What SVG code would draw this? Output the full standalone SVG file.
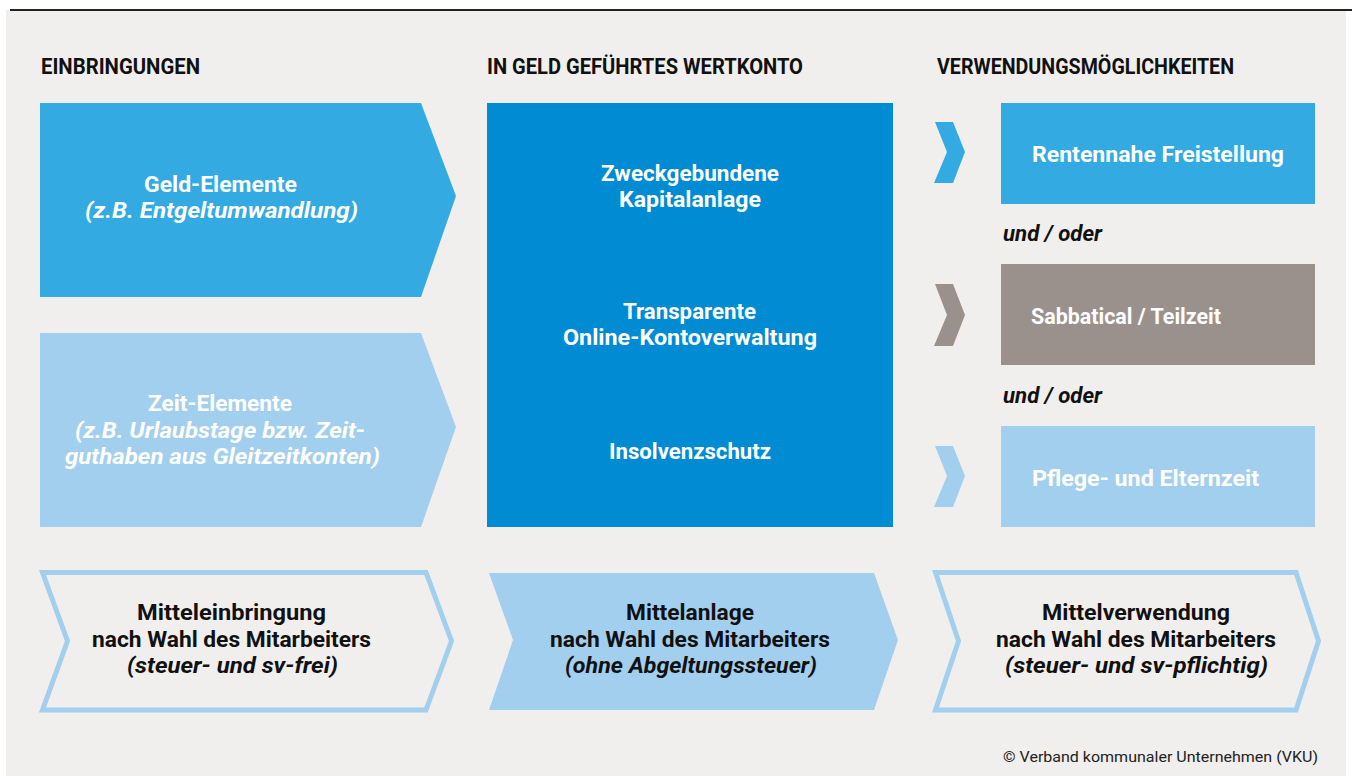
<svg xmlns="http://www.w3.org/2000/svg" width="1352" height="776" viewBox="0 0 1352 776">
<style>
text{font-family:Roboto,"Liberation Sans",sans-serif;font-weight:700;font-size:22px}
.h{fill:#111;font-size:22px}
.w{fill:#fff}
.k{fill:#111}
.c{text-anchor:middle}
.i{font-style:italic}
.blue{fill:#33aae1}
.light{fill:#a3cfee}
.dark{fill:#008bd2}
.grey{fill:#9b918c}
.outline{fill:none;stroke:#a3cfee;stroke-width:5}
.copy{font-weight:400;font-size:15px;fill:#222}
</style>
<rect x="6" y="10" width="1340" height="766" fill="#f0efed"/>
<line x1="10" y1="10" x2="1352" y2="10" stroke="#222" stroke-width="2"/>

<g id="headings">
<text class="h" x="41" y="74" textLength="159" lengthAdjust="spacingAndGlyphs">EINBRINGUNGEN</text>
<text class="h" x="487" y="74" textLength="316" lengthAdjust="spacingAndGlyphs">IN GELD GEFÜHRTES WERTKONTO</text>
<text class="h" x="937" y="74" textLength="297" lengthAdjust="spacingAndGlyphs">VERWENDUNGSMÖGLICHKEITEN</text>
</g>

<g id="geld">
<polygon class="blue" points="40,103 421,103 456,196 421,297 40,297"/>
<text class="w" x="144" y="192" textLength="153" lengthAdjust="spacingAndGlyphs">Geld-Elemente</text>
<text class="w i" x="85" y="218" textLength="273" lengthAdjust="spacingAndGlyphs">(z.B. Entgeltumwandlung)</text>
</g>

<g id="zeit">
<polygon class="light" points="40,333 421,333 456,427 421,527 40,527"/>
<text class="w" x="148" y="411" textLength="144" lengthAdjust="spacingAndGlyphs">Zeit-Elemente</text>
<text class="w i" x="75" y="438" textLength="290" lengthAdjust="spacingAndGlyphs">(z.B. Urlaubstage bzw. Zeit-</text>
<text class="w i" x="65" y="464" textLength="315" lengthAdjust="spacingAndGlyphs">guthaben aus Gleitzeitkonten)</text>
</g>

<g id="wertkonto">
<rect class="dark" x="487" y="103" width="406" height="424"/>
<text class="w" x="601" y="181" textLength="178" lengthAdjust="spacingAndGlyphs">Zweckgebundene</text>
<text class="w" x="619" y="207" textLength="142" lengthAdjust="spacingAndGlyphs">Kapitalanlage</text>
<text class="w" x="623" y="319" textLength="133" lengthAdjust="spacingAndGlyphs">Transparente</text>
<text class="w" x="563" y="345" textLength="254" lengthAdjust="spacingAndGlyphs">Online-Kontoverwaltung</text>
<text class="w" x="609" y="459" textLength="162" lengthAdjust="spacingAndGlyphs">Insolvenzschutz</text>
</g>

<g id="connectors">
<polygon class="blue" points="935,122 953,122 965,152 953,183 934,183 947,152"/>
<polygon class="grey" points="935,284 953,284 965,315 953,346 934,346 947,315"/>
<polygon class="light" points="935,446 953,446 965,476 953,507 934,507 947,476"/>
</g>

<g id="rentennahe">
<rect class="blue" x="1001" y="103" width="314" height="101"/>
<text class="w" x="1032" y="162" textLength="252" lengthAdjust="spacingAndGlyphs">Rentennahe Freistellung</text>
</g>

<g id="und-oder-1">
<text class="k i" x="1003" y="241" textLength="99" lengthAdjust="spacingAndGlyphs">und / oder</text>
</g>

<g id="sabbatical">
<rect class="grey" x="1001" y="264" width="314" height="101"/>
<text class="w" x="1031" y="324" textLength="190" lengthAdjust="spacingAndGlyphs">Sabbatical / Teilzeit</text>
</g>

<g id="und-oder-2">
<text class="k i" x="1003" y="403" textLength="99" lengthAdjust="spacingAndGlyphs">und / oder</text>
</g>

<g id="pflege">
<rect class="light" x="1001" y="426" width="314" height="101"/>
<text class="w" x="1032" y="486" textLength="227" lengthAdjust="spacingAndGlyphs">Pflege- und Elternzeit</text>
</g>

<g id="mitteleinbringung">
<polygon class="outline" points="42.5,572.5 426,572.5 451.5,641 426,710 42.5,710 67.5,641"/>
<text class="k" x="137" y="620" textLength="189" lengthAdjust="spacingAndGlyphs">Mitteleinbringung</text>
<text class="k" x="92" y="647" textLength="279" lengthAdjust="spacingAndGlyphs">nach Wahl des Mitarbeiters</text>
<text class="k i" x="127" y="673" textLength="211" lengthAdjust="spacingAndGlyphs">(steuer- und sv-frei)</text>
</g>

<g id="mittelanlage">
<polygon class="light" points="489,573 874,573 898,640 874,710 489,710 513,640"/>
<text class="k" x="626" y="620" textLength="128" lengthAdjust="spacingAndGlyphs">Mittelanlage</text>
<text class="k" x="550" y="647" textLength="280" lengthAdjust="spacingAndGlyphs">nach Wahl des Mitarbeiters</text>
<text class="k i" x="565" y="673" textLength="252" lengthAdjust="spacingAndGlyphs">(ohne Abgeltungssteuer)</text>
</g>

<g id="mittelverwendung">
<polygon class="outline" points="935.5,572.5 1296,572.5 1318.5,641 1296,710 935.5,710 958.5,641"/>
<text class="k" x="1042" y="620" textLength="188" lengthAdjust="spacingAndGlyphs">Mittelverwendung</text>
<text class="k" x="996" y="647" textLength="280" lengthAdjust="spacingAndGlyphs">nach Wahl des Mitarbeiters</text>
<text class="k i" x="1005" y="673" textLength="263" lengthAdjust="spacingAndGlyphs">(steuer- und sv-pflichtig)</text>
</g>

<text class="copy" x="1003" y="762" textLength="315" lengthAdjust="spacingAndGlyphs">© Verband kommunaler Unternehmen (VKU)</text>
</svg>
